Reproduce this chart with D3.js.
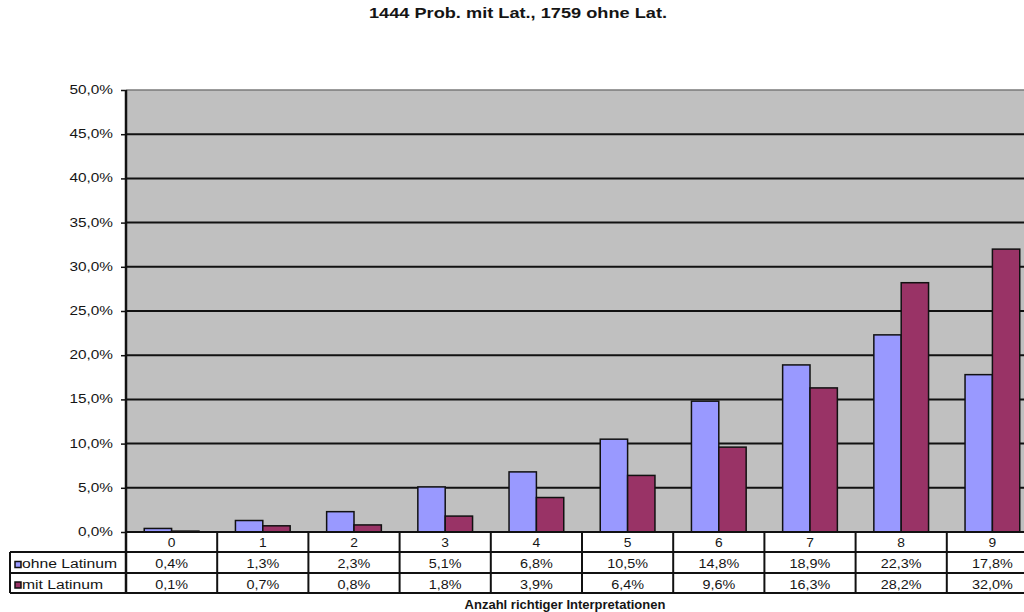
<!DOCTYPE html>
<html>
<head>
<meta charset="utf-8">
<script src="https://cdn.jsdelivr.net/npm/d3@7/dist/d3.min.js"></script>
<style>
  html, body { margin: 0; padding: 0; background: #fff; }
  svg { display: block; }
  text { font-family: "Liberation Sans", Arial, sans-serif; fill: #151515; }
</style>
</head>
<body>
<svg id="chart" width="1024" height="612"></svg>
<script>
// Share of respondents by number of correct interpretations
const categories = ["0", "1", "2", "3", "4", "5", "6", "7", "8", "9"];
const ohneLatinum = [0.4, 1.3, 2.3, 5.1, 6.8, 10.5, 14.8, 18.9, 22.3, 17.8];
const mitLatinum  = [0.1, 0.7, 0.8, 1.8, 3.9, 6.4, 9.6, 16.3, 28.2, 32.0];
const seriesNames = ["ohne Latinum", "mit Latinum"];
const yTicks = [0, 5, 10, 15, 20, 25, 30, 35, 40, 45, 50];
const titleText = "1444 Prob. mit Lat., 1759 ohne Lat.";
const xTitleText = "Anzahl richtiger Interpretationen";

const colors = ["#9999ff", "#993366"];
const series = [ohneLatinum, mitLatinum];

const svg = d3.select("#chart");
const plot = { left: 126, top: 90, bottom: 532, right: 126 + 91.2 * categories.length };
const rowH = [532, 552, 573, 593];   // table row boundaries
const legendLeft = 10;

const fmt = v => d3.format(".1f")(v).replace(".", ",") + "%";

// text helper with a horizontal stretch
function label(g, str, x, y, opts = {}) {
  const sx = opts.sx || 1;
  return g.append("text")
    .attr("transform", `translate(${x},${y}) scale(${sx},1)`)
    .attr("text-anchor", opts.anchor || "middle")
    .attr("font-size", opts.size || 12)
    .attr("font-weight", opts.bold ? "bold" : "normal")
    .text(str);
}

const x = d3.scaleBand().domain(categories).range([plot.left, plot.right]).padding(0);
const xInner = d3.scaleBand().domain(seriesNames)
  .range([x.bandwidth() * 0.2, x.bandwidth() * 0.8]).padding(0);
const y = d3.scaleLinear().domain([0, 50]).range([plot.bottom, plot.top]);

// plot area
svg.append("rect")
  .attr("x", plot.left).attr("y", plot.top)
  .attr("width", plot.right - plot.left).attr("height", plot.bottom - plot.top)
  .attr("fill", "#c0c0c0");

svg.append("line")
  .attr("x1", plot.left).attr("x2", plot.right)
  .attr("y1", y(50)).attr("y2", y(50))
  .attr("stroke", "#7a7a7a").attr("stroke-width", 1.5);

// gridlines
svg.append("g").selectAll("line")
  .data(yTicks.filter(t => t > 0 && t < 50))
  .join("line")
  .attr("x1", plot.left).attr("x2", plot.right)
  .attr("y1", d => y(d)).attr("y2", d => y(d))
  .attr("stroke", "#111").attr("stroke-width", 2);

// y axis: ticks from d3, labels stretched like the rest of the chart text
const yAxis = svg.append("g")
  .attr("transform", `translate(${plot.left},0)`)
  .call(d3.axisLeft(y).tickValues(yTicks).tickSize(5).tickFormat(""));
yAxis.select(".domain").remove();
yAxis.selectAll(".tick line").attr("stroke", "#111").attr("stroke-width", 1.5);
yTicks.forEach(t => label(svg, fmt(t), 113, y(t) + 4, { anchor: "end", sx: 1.28 }));

// bars
const groups = svg.append("g").selectAll("g")
  .data(categories)
  .join("g")
  .attr("transform", d => `translate(${x(d)},0)`);

groups.selectAll("rect")
  .data((d, i) => series.map((s, k) => ({ name: seriesNames[k], value: s[i], k })))
  .join("rect")
  .attr("x", d => xInner(d.name))
  .attr("width", xInner.bandwidth())
  .attr("y", d => y(d.value))
  .attr("height", d => y(0) - y(d.value))
  .attr("fill", d => colors[d.k])
  .attr("stroke", "#111")
  .attr("stroke-width", 1.5);

// data table
const table = svg.append("g");
table.append("rect")
  .attr("x", plot.left).attr("y", rowH[0])
  .attr("width", plot.right - plot.left).attr("height", rowH[1] - rowH[0])
  .attr("fill", "#fff");
table.append("rect")
  .attr("x", legendLeft).attr("y", rowH[1])
  .attr("width", plot.right - legendLeft).attr("height", rowH[3] - rowH[1])
  .attr("fill", "#fff");

const lineAttrs = sel => sel.attr("stroke", "#111").attr("stroke-width", 2).attr("fill", "none");

// horizontal rules
[[plot.left, rowH[0]], [legendLeft, rowH[1]], [legendLeft, rowH[2]], [legendLeft, rowH[3]]]
  .forEach(([x0, yy]) => table.append("line")
    .attr("x1", x0).attr("x2", plot.right).attr("y1", yy).attr("y2", yy).call(lineAttrs));

// vertical rules
table.append("line").attr("x1", legendLeft).attr("x2", legendLeft)
  .attr("y1", rowH[1]).attr("y2", rowH[3]).call(lineAttrs);
table.selectAll(".vr")
  .data(categories.map(c => x(c)).concat([plot.right]))
  .join("line")
  .attr("x1", d => d).attr("x2", d => d)
  .attr("y1", rowH[0]).attr("y2", rowH[3]).call(lineAttrs);

// category labels and values
categories.forEach((c, i) => {
  const cx = x(c) + x.bandwidth() / 2;
  label(table, c, cx, rowH[0] + 15, { sx: 1.15 });
  label(table, fmt(ohneLatinum[i]), cx, rowH[1] + 16, { sx: 1.2 });
  label(table, fmt(mitLatinum[i]), cx, rowH[2] + 16, { sx: 1.2 });
});

// legend keys inside the table
seriesNames.forEach((n, k) => {
  const yMid = (rowH[k + 1] + rowH[k + 2]) / 2 + 2;
  table.append("rect")
    .attr("x", 15).attr("y", yMid - 3)
    .attr("width", 6).attr("height", 6)
    .attr("fill", colors[k]).attr("stroke", "#111").attr("stroke-width", 1.5);
  label(table, n, 22, rowH[k + 1] + 16, { anchor: "start", sx: 1.31 });
});

// left axis line
svg.append("line")
  .attr("x1", plot.left).attr("x2", plot.left)
  .attr("y1", plot.top).attr("y2", rowH[3])
  .attr("stroke", "#111").attr("stroke-width", 2.5);

// titles
label(svg, titleText, 518, 18, { bold: true, size: 14, sx: 1.3 });
label(svg, xTitleText, 565, 609, { bold: true, size: 13 });
</script>
</body>
</html>
